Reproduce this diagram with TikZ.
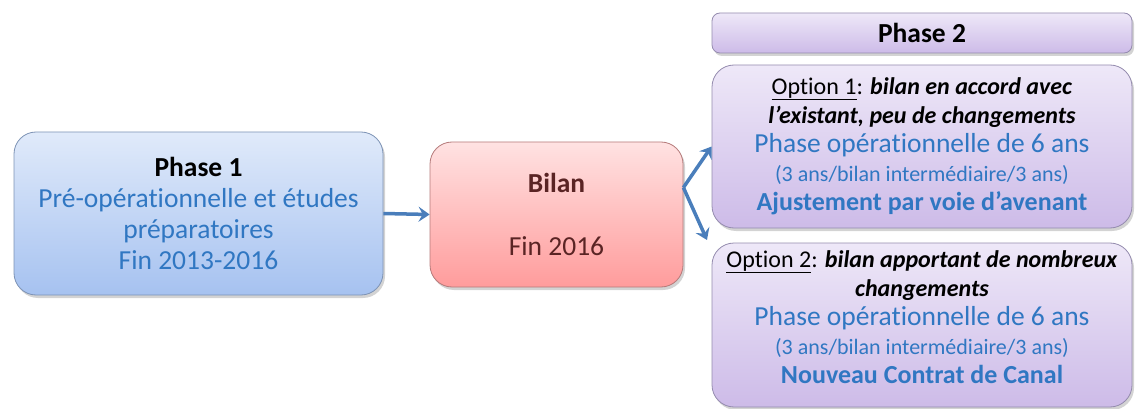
\documentclass[tikz,border=0pt]{standalone}
\usepackage{fontspec}
\setmainfont{Carlito}[Ligatures=NoCommon]
\usepackage{tikz}
\usetikzlibrary{positioning}
\usetikzlibrary{arrows.meta}
\usetikzlibrary{shadows}

\definecolor{txtblue}{HTML}{3077C2}
\definecolor{arrowblue}{HTML}{4A7EBB}
\definecolor{bilanbrown}{HTML}{5A2424}
\definecolor{bleuhaut}{HTML}{E0EAFA}
\definecolor{bleubas}{HTML}{A6C2F0}
\definecolor{bleubord}{HTML}{7D93B5}
\definecolor{rosehaut}{HTML}{FFE2E2}
\definecolor{rosebas}{HTML}{FF9C9C}
\definecolor{rosebord}{HTML}{B57A7A}
\definecolor{mauvehaut}{HTML}{EEE8F8}
\definecolor{mauvebas}{HTML}{CDBBE8}
\definecolor{mauvebord}{HTML}{948BAE}

\tikzset{
    boite/.style={draw, line width=0.8pt, rounded corners=22pt, align=center,
        drop shadow={opacity=0.35, shadow xshift=2pt, shadow yshift=-3pt}},
    bleue/.style={boite, draw=bleubord, top color=bleuhaut, bottom color=bleubas},
    rose/.style={boite, draw=rosebord, top color=rosehaut, bottom color=rosebas},
    mauve/.style={boite, draw=mauvebord, top color=mauvehaut, bottom color=mauvebas},
    fleche/.style={arrowblue, line width=3.5pt, -{Stealth[length=11pt,width=15pt,inset=4pt]}}
}

\begin{document}
\begin{tikzpicture}[x=1pt,y=-1pt]
        \useasboundingbox (0,0) rectangle (1136,409);
        % phase 1 et bilan
        \node[bleue, minimum width=369pt, minimum height=163pt, text=txtblue,
              font=\fontsize{27.5}{31}\selectfont] (phaseun) at (198.5,213.5)
            {{\color{black}\textbf{Phase 1}}\\Pré-opérationnelle et études\\préparatoires\\Fin 2013-2016};
        \node[rose, minimum width=253pt, minimum height=145pt, text=bilanbrown,
              font=\fontsize{27.5}{63}\selectfont] (bilan) at (556.5,214.5)
            {\textbf{Bilan}\\Fin 2016};
        % phase 2 et ses deux options
        \node[mauve, rounded corners=8pt, minimum width=420pt, minimum height=40pt,
              font=\fontsize{27.5}{31}\selectfont] (phasedeux) at (922,33) {\textbf{Phase 2}};
        \node[mauve, minimum width=420pt, minimum height=163pt, text=txtblue, text depth=5pt,
              font=\fontsize{24}{29}\selectfont] (optionun) at (922,146.5)
            {{\color{black}\underline{Option 1}: \textbf{\textit{bilan en accord avec}}}\\
             {\color{black}\textbf{\textit{l’existant, peu de changements}}}\\
             {\fontsize{27.5}{29}\selectfont Phase opérationnelle de 6 ans}\\
             {\fontsize{22}{29}\selectfont (3 ans/bilan intermédiaire/3 ans)}\\
             {\fontsize{26}{29}\selectfont\textbf{Ajustement par voie d’avenant}}};
        \node[mauve, minimum width=420pt, minimum height=164pt, text=txtblue, text depth=16pt,
              font=\fontsize{24}{29}\selectfont] (optiondeux) at (922,325)
            {{\color{black}\underline{Option 2}: \textbf{\textit{bilan apportant de nombreux}}}\\
             {\color{black}\textbf{\textit{changements}}}\\
             {\fontsize{27.5}{29}\selectfont Phase opérationnelle de 6 ans}\\
             {\fontsize{22}{29}\selectfont (3 ans/bilan intermédiaire/3 ans)}\\
             {\fontsize{26}{29}\selectfont\textbf{Nouveau Contrat de Canal}}};
        % fleches
        \coordinate (fourche) at (bilan.12);
        \coordinate (basopt) at (707,240);
        \draw[fleche] (phaseun.east) -- (bilan.west);
        \draw[fleche] (fourche) -- (optionun.west);
        \draw[fleche] (fourche) -- (basopt);
    \end{tikzpicture}
\end{document}
